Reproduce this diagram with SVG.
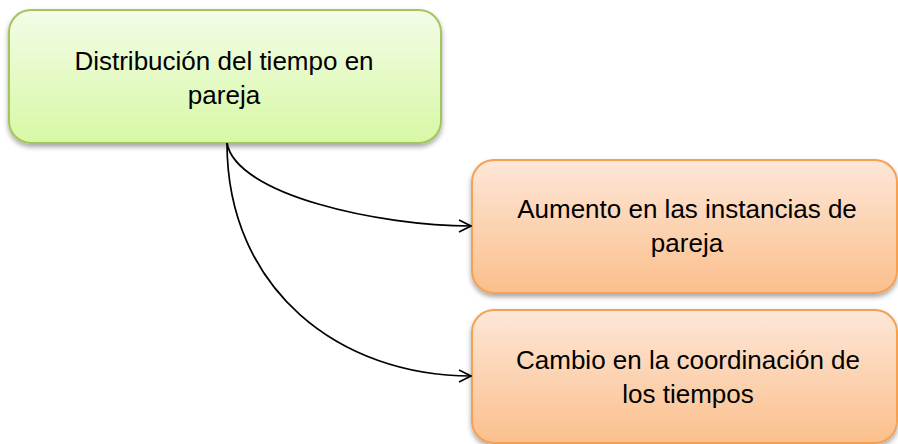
<svg xmlns="http://www.w3.org/2000/svg" width="898" height="444" viewBox="0 0 898 444">
<style>
.t{font-family:"Liberation Sans",Arial,sans-serif;font-size:26px;fill:#000;text-anchor:middle}
.c{fill:none;stroke:#000;stroke-width:1.7}
</style>
<defs>
<linearGradient id="gG" x1="0" y1="0" x2="0" y2="1"><stop offset="0" stop-color="#f3fce8"/><stop offset="1" stop-color="#d7f8a4"/></linearGradient>
<linearGradient id="gO" x1="0" y1="0" x2="0" y2="1"><stop offset="0" stop-color="#fde7d8"/><stop offset="1" stop-color="#fbbf8c"/></linearGradient>
<filter id="sh" x="-10%" y="-10%" width="120%" height="130%"><feDropShadow dx="0" dy="3" stdDeviation="2.5" flood-color="#000" flood-opacity="0.35"/></filter>
<marker id="ar" viewBox="0 0 14 14" refX="13" refY="7" markerWidth="14" markerHeight="14" markerUnits="userSpaceOnUse" orient="auto"><path d="M1,1 L13,7 L1,13" fill="none" stroke="#000" stroke-width="1.7"/></marker>
</defs>
<g id="n1">
<rect x="9" y="10" width="432" height="133" rx="22" fill="url(#gG)" stroke="#a3c55e" stroke-width="2" filter="url(#sh)"/>
<text class="t" x="224" y="70">Distribución del tiempo en</text>
<text class="t" x="224" y="104">pareja</text>
</g>
<g id="n2">
<rect x="472" y="160" width="425" height="133" rx="22" fill="url(#gO)" stroke="#f5a053" stroke-width="2" filter="url(#sh)"/>
<text class="t" x="687" y="218">Aumento en las instancias de</text>
<text class="t" x="687" y="252">pareja</text>
</g>
<g id="n3">
<rect x="472" y="310" width="425" height="133" rx="22" fill="url(#gO)" stroke="#f5a053" stroke-width="2" filter="url(#sh)"/>
<text class="t" x="688" y="369">Cambio en la coordinación de</text>
<text class="t" x="688" y="403">los tiempos</text>
</g>
<g id="connectors">
<path class="c" d="M227,143 C236,195 380,226 471,226" marker-end="url(#ar)"/>
<path class="c" d="M227,143 C227,290 340,376 471,376" marker-end="url(#ar)"/>
</g>
</svg>
